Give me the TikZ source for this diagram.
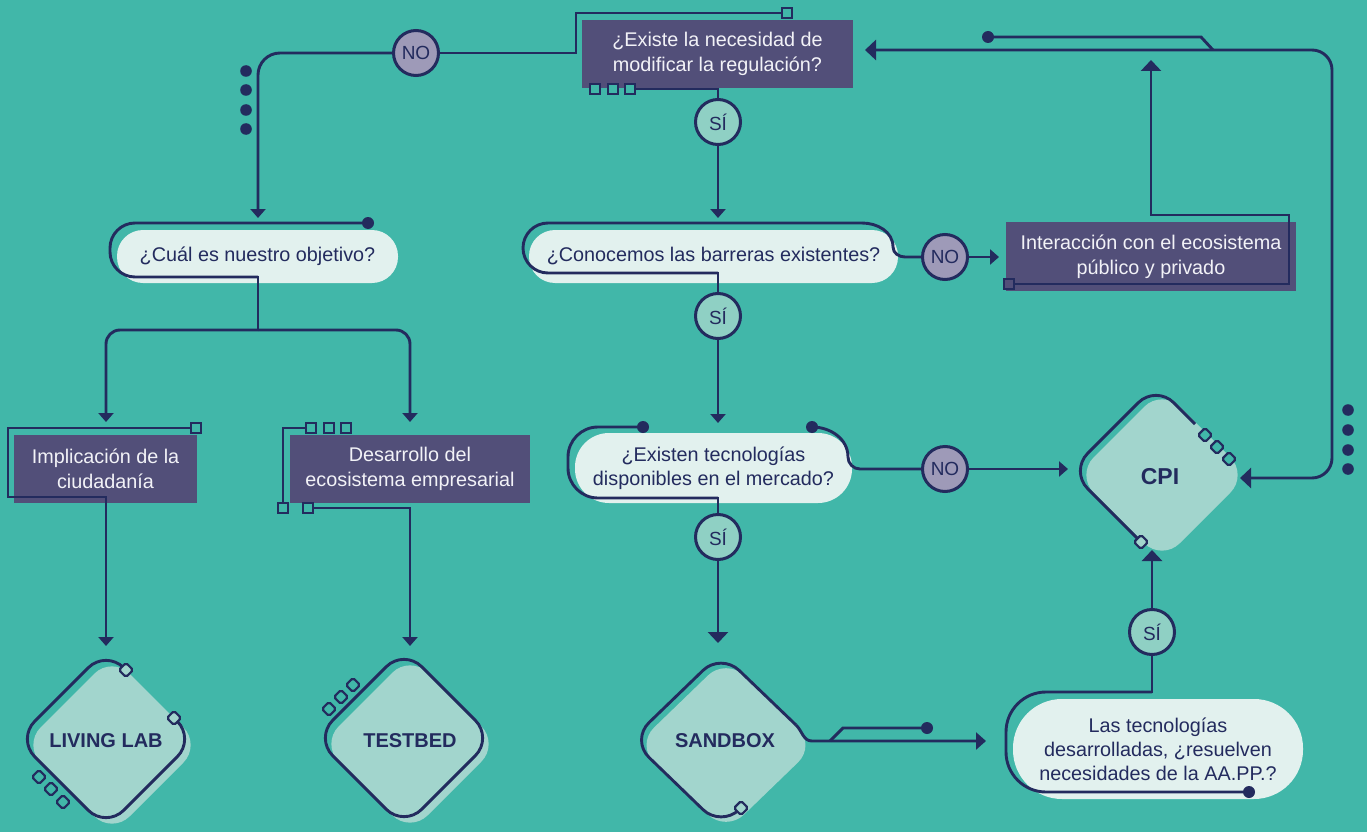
\documentclass[tikz,border=0pt]{standalone}
\usepackage{fontspec}
\setmainfont{Liberation Sans}
\usetikzlibrary{arrows.meta}
\definecolor{bg}{HTML}{41B7A9}
\definecolor{navy}{HTML}{232B5E}
\definecolor{purp}{HTML}{524F79}
\definecolor{pillc}{HTML}{E2F1EE}
\definecolor{dfill}{HTML}{A2D5CD}
\definecolor{nofill}{HTML}{9E9AB8}
\definecolor{sifill}{HTML}{8FD0C4}
\definecolor{txtw}{HTML}{F2F2F7}
\newcommand{\dfillat}[4]{\fill[dfill, rounded corners=25pt] ({#1+#3/2},{#2-#4/2}) -- ({#1+#3},#2) -- (#1,{#2+#4}) -- ({#1-#3},#2) -- (#1,{#2-#4}) -- cycle;}
\begin{document}
\begin{tikzpicture}[x=1pt,y=-1pt,
  ln/.style={draw=navy, line width=2.9pt},
  arr/.style={ln, -{Triangle[width=15pt,length=9pt]}},
  bigarr/.style={ln, -{Triangle[width=20pt,length=11pt]}},
  circ/.style={circle, draw=navy, line width=3pt, minimum size=45pt, inner sep=0pt, text=navy, font=\fontsize{19}{22}\selectfont},
  nocirc/.style={circ, fill=nofill},
  sicirc/.style={circ, fill=sifill},
  pbox/.style={rectangle, fill=purp, text=txtw, align=center, inner sep=0pt, font=\fontsize{19.8}{25}\selectfont},
  pillbox/.style={rectangle, fill=pillc, text=navy, align=center, inner sep=0pt, font=\fontsize{19.8}{24}\selectfont},
  dtext/.style={text=navy, font=\bfseries\fontsize{20}{24}\selectfont},
  sq/.style={rectangle, draw=navy, line width=2.2pt, minimum size=10pt, inner sep=0pt, fill=bg},
  dsq/.style={sq, rotate=45, rounded corners=1.8pt},
  dot/.style={circle, fill=navy, minimum size=12pt, inner sep=0pt}
]
\useasboundingbox (0,0) rectangle (1367,832);
\fill[bg] (0,0) rectangle (1367,832);

% ---------- fills ----------
\node[pbox, minimum width=271pt, minimum height=68pt] (q1) at (717.5,54) {¿Existe la necesidad de\\modificar la regulación?};
\node[pillbox, minimum width=281pt, minimum height=53pt, rounded corners=26pt] (q2) at (257.5,256.5) {¿Cuál es nuestro objetivo?};
\node[pillbox, minimum width=369pt, minimum height=53pt, rounded corners=26pt] (q3) at (713.5,256.5) {¿Conocemos las barreras existentes?};
\node[pbox, minimum width=290pt, minimum height=69pt] (inter) at (1151,256.5) {Interacción con el ecosistema\\público y privado};
\node[pbox, minimum width=183pt, minimum height=68pt] (impl) at (105.5,469) {Implicación de la\\ciudadanía};
\node[pbox, minimum width=240pt, minimum height=68pt] (desa) at (410,469) {Desarrollo del\\ecosistema empresarial};
\node[pillbox, minimum width=277pt, minimum height=70pt, rounded corners=34pt] (q4) at (713.5,468) {¿Existen tecnologías\\disponibles en el mercado?};
\node[pillbox, minimum width=290pt, minimum height=100pt, rounded corners=49pt] (q5) at (1158,749) {Las tecnologías\\desarrolladas, ¿resuelven\\necesidades de la AA.PP.?};

\dfillat{112}{745}{89}{89}
\dfillat{410}{744}{89}{89}
\dfillat{726}{745}{90}{87}
\dfillat{1162}{475}{86}{86}

% ---------- circles ----------
\node[nocirc] (no1) at (416,53) {NO};
\node[nocirc] (no2) at (945,257) {NO};
\node[nocirc] (no3) at (945,469) {NO};
\node[sicirc] (si1) at (718,122) {SÍ};
\node[sicirc] (si2) at (718,316) {SÍ};
\node[sicirc] (si3) at (718,537) {SÍ};
\node[sicirc] (si4) at (1152,632) {SÍ};

% ---------- coordinates ----------
\coordinate (a1) at (258,218);
\coordinate (a2) at (718,218);
\coordinate (a3) at (718,423);
\coordinate (a4) at (718,643);
\coordinate (a5) at (106,422);
\coordinate (a6) at (410,422);
\coordinate (a7) at (106,646);
\coordinate (a8) at (410,646);
\coordinate (a9) at (999,257);
\coordinate (a10) at (1068,469);
\coordinate (a11) at (1152,550);
\coordinate (a12) at (986,741);
\coordinate (a13) at (1240,478);
\coordinate (a14) at (865,50);
\coordinate (a15) at (1151,60);

% ---------- top question ----------
\draw[ln] (no1.east) -- (576,53) -- (576,13) -- (782,13);
\node[sq] (s1) at (787,13) {};
\node[sq] (s2) at (595,89) {};
\node[sq] (s3) at (613,89) {};
\node[sq] (s4) at (630,89) {};
\draw[ln] (s4.east) -- (718,89) -- (si1.north);
\draw[arr] (si1.south) -- (a2);
\draw[arr, rounded corners=22pt] (no1.west) -- (258,53) -- (a1);
\foreach \yy in {71,90,110,129} \fill[navy] (246,\yy) circle (5.8pt);

% ---------- objetivo ----------
\node[dot] (d1) at (368,223) {};
\draw[ln, rounded corners=25pt] (d1.center) -- (110,223) -- (110,277) -- (258,277);
\draw[ln, line cap=rect] (258,277) -- (258,330);
\draw[arr, rounded corners=14pt] (258,330) -- (106,330) -- (a5);
\draw[arr, rounded corners=14pt] (258,330) -- (410,330) -- (a6);

% implicacion
\node[sq] (s5) at (196,428) {};
\draw[arr] (s5.west) -- (8,428) -- (8,497) -- (106,497) -- (a7);
% desarrollo
\node[sq] (s6) at (311,428) {};
\node[sq] (s7) at (329,428) {};
\node[sq] (s8) at (346,428) {};
\node[sq] (s9) at (283,508) {};
\node[sq] (s10) at (308,508) {};
\draw[ln] (s6.west) -- (283,428) -- (s9.north);
\draw[arr] (s10.east) -- (410,508) -- (a8);

% ---------- conocemos ----------
\draw[ln, line cap=rect] (si2.north) -- (718,273);
\draw[ln, rounded corners=25pt] (718,273) -- (523,273) -- (523,223) -- (862,223);
\draw[ln] (862,223) to[out=0,in=90] (893,247) to[out=-90,in=180] (905,257) -- (no2.west);
\draw[arr] (no2.east) -- (a9);
\draw[arr] (si2.south) -- (a3);

% interaccion
\node[sq, fill=purp] (s11) at (1009,284) {};
\draw[bigarr] (s11.east) -- (1289,284) -- (1289,215) -- (1151,215) -- (a15);

% ---------- existen ----------
\node[dot] (d2) at (643,427) {};
\node[dot] (d3) at (812,427) {};
\draw[ln, rounded corners=30pt] (d2.center) -- (568,427) -- (568,498) -- (718,498);
\draw[ln, line cap=rect] (718,498) -- (si3.north);
\draw[ln] (d3.center) to[out=0,in=90] (848,457) to[out=-90,in=180] (860,469) -- (no3.west);
\draw[arr] (no3.east) -- (a10);
\draw[bigarr] (si3.south) -- (a4);

% ---------- diamonds ----------
% living lab
\draw[ln, rounded corners=25pt] (174,718) -- (195,739) -- (106,828) -- (17,739) -- (106,650) -- (125,669);
\node[dsq, fill=dfill] at (174,718) {};
\node[dsq, fill=dfill] at (126,670) {};
\node[dsq] at (39,777) {};
\node[dsq] at (51,789) {};
\node[dsq] at (63,802) {};
\node[dtext] (ll) at (106,741) {LIVING LAB};
% testbed
\draw[ln, rounded corners=25pt] (448.5,693.5) -- (493,738) -- (404,827) -- (315,738) -- (404,649) -- cycle;
\node[dsq] at (329,709) {};
\node[dsq] at (341,697) {};
\node[dsq] at (353,685) {};
\node[dtext] (tb) at (410,741) {TESTBED};
% sandbox
\draw[ln, rounded corners=25pt] (741,808) -- (721,827) -- (631,740) -- (721,653) -- (796,725);
\draw[ln, -{Triangle[width=17pt,length=10pt]}] (796,725) to[out=-44,in=180] (812,741) -- (a12);
\node[dsq, fill=dfill] at (741,808) {};
\node[dot] (d4) at (927,728) {};
\draw[ln] (830,741) -- (843,728) -- (d4.center);
\node[dtext] (sb) at (725,741) {SANDBOX};
% cpi
\draw[ln, rounded corners=25pt] (1195,424) -- (1156,385) -- (1070,471) -- (1141,542);
\node[dsq, fill=dfill] at (1141,542) {};
\node[dsq] at (1205,435) {};
\node[dsq] at (1217,447) {};
\node[dsq] at (1229,459) {};
\node[text=navy, font=\bfseries\fontsize{23}{26}\selectfont] (cpi) at (1160,477) {CPI};
\draw[bigarr] (si4.north) -- (a11);

% ---------- las tecnologias ----------
\draw[ln, line cap=rect] (si4.south) -- (1152,692);
\node[dot] (d5) at (1249,792) {};
\draw[ln, rounded corners=40pt] (1152,692) -- (1006,692) -- (1006,792) -- (d5.center);

% ---------- right loop ----------
\draw[ln, {Triangle[width=20pt,length=11pt]}-{Triangle[width=20pt,length=11pt]}, rounded corners=20pt] (a13) -- (1332,478) -- (1332,50) -- (a14);
\node[dot] (d6) at (988,37) {};
\draw[ln] (d6.center) -- (1201,37) -- (1213,50);
\foreach \yy in {410,430,450,469} \fill[navy] (1348,\yy) circle (5.8pt);
\end{tikzpicture}
\end{document}
